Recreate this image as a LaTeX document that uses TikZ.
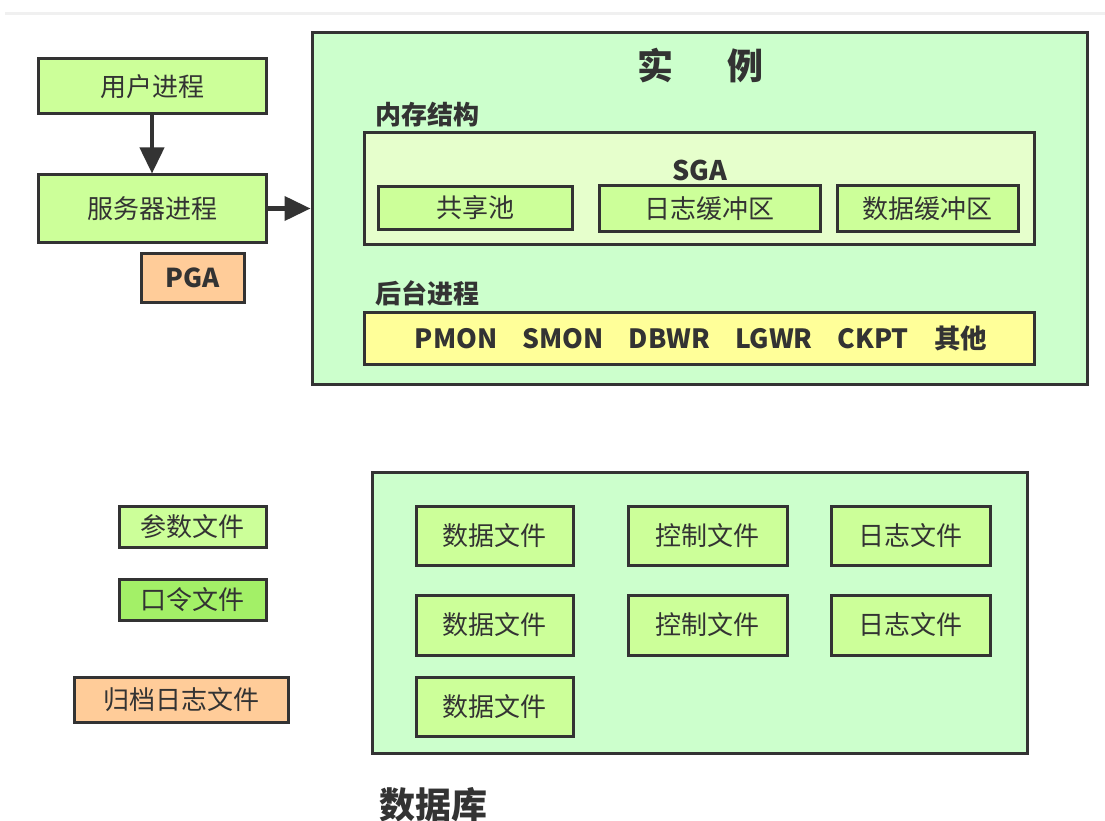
\documentclass[tikz,border=0pt]{standalone}
\usepackage{fontspec}
\setmainfont{Noto Sans CJK SC}
\newfontfamily\cjk{Noto Sans CJK SC}
\usetikzlibrary{arrows.meta}
\definecolor{inst}{HTML}{CCFFCC}
\definecolor{sgafill}{HTML}{E6FFCC}
\definecolor{lime}{HTML}{CCFF99}
\definecolor{pwd}{HTML}{A3F067}
\definecolor{yel}{HTML}{FFFF99}
\definecolor{peach}{HTML}{FFCC99}
\definecolor{ink}{HTML}{333333}
\begin{document}
\begin{tikzpicture}[x=1pt,y=-1pt,
  box/.style={draw=ink,line width=3pt,inner sep=0pt,text=ink,font=\cjk\fontsize{26}{30}\selectfont},
  limebox/.style={box,fill=lime},
  title/.style={text=ink,inner sep=0pt,font=\cjk\bfseries\fontsize{26}{30}\selectfont},
  arr/.style={draw=ink,line width=4pt,-{Triangle[length=26pt,width=24pt]}}
]
\useasboundingbox[fill=white] (0,0) rectangle (1105,821);
\draw[color=black!6,line width=3pt] (5,14) -- (1105,14);

% instance
\node[box,fill=inst,minimum width=775pt,minimum height=351pt] (inst) at (699.5,208.5) {};
\node[title,font=\cjk\bfseries\fontsize{36}{40}\selectfont] (t1) at (700,66) {实\hspace{1.5em}例};
\node[title,anchor=west] (mem) at (375,115) {内存结构};
\node[box,fill=sgafill,minimum width=670pt,minimum height=111pt] (sga) at (699,188.5) {};
\node[title,font=\cjk\bfseries\fontsize{27}{30}\selectfont] (sgat) at (700,170) {SGA};
\node[limebox,minimum width=194pt,minimum height=42pt] (pool) at (475,208) {共享池};
\node[limebox,minimum width=221pt,minimum height=45pt] (logbuf) at (709.5,208.5) {日志缓冲区};
\node[limebox,minimum width=181pt,minimum height=45pt] (databuf) at (927.5,208.5) {数据缓冲区};
\node[title,anchor=west] (bg) at (375,293) {后台进程};
\node[box,fill=yel,minimum width=670pt,minimum height=52pt,font=\cjk\bfseries\fontsize{26.5}{30}\selectfont] (procs) at (699,338) {\hspace{4pt}PMON\hspace{0.95em}SMON\hspace{0.95em}DBWR\hspace{0.95em}LGWR\hspace{0.95em}CKPT\hspace{0.95em}其他};

% left processes
\node[limebox,minimum width=228pt,minimum height=55pt] (user) at (152,86.5) {用户进程};
\node[limebox,minimum width=228pt,minimum height=67pt] (server) at (152,208.5) {服务器进程};
\node[box,fill=peach,minimum width=103pt,minimum height=49pt,font=\cjk\bfseries\fontsize{26}{30}\selectfont] (pga) at (192.5,277.5) {PGA};
\draw[arr] (user.south) -- (server.north);
\draw[arr] (server.east) -- (inst.west|-server.east);

% files
\node[limebox,minimum width=147pt,minimum height=41pt] (param) at (192.5,526.5) {参数文件};
\node[box,fill=pwd,minimum width=147pt,minimum height=41pt] (pwdf) at (192.5,599.5) {口令文件};
\node[box,fill=peach,minimum width=214pt,minimum height=45pt] (arch) at (181,699.5) {归档日志文件};

% database
\node[box,fill=inst,minimum width=655pt,minimum height=281pt] (db) at (699.5,612.5) {};
\node[limebox,minimum width=157pt,minimum height=59pt] (d1) at (494.5,535.5) {数据文件};
\node[limebox,minimum width=159pt,minimum height=59pt] (c1) at (707.5,535.5) {控制文件};
\node[limebox,minimum width=159pt,minimum height=59pt] (l1) at (910.5,535.5) {日志文件};
\node[limebox,minimum width=157pt,minimum height=60pt] (d2) at (494.5,625) {数据文件};
\node[limebox,minimum width=159pt,minimum height=60pt] (c2) at (707.5,625) {控制文件};
\node[limebox,minimum width=159pt,minimum height=60pt] (l2) at (910.5,625) {日志文件};
\node[limebox,minimum width=157pt,minimum height=59pt] (d3) at (494.5,706.5) {数据文件};
\node[title,anchor=west,font=\cjk\bfseries\fontsize{36}{40}\selectfont] (dbt) at (379,805) {数据库};
\end{tikzpicture}
\end{document}
